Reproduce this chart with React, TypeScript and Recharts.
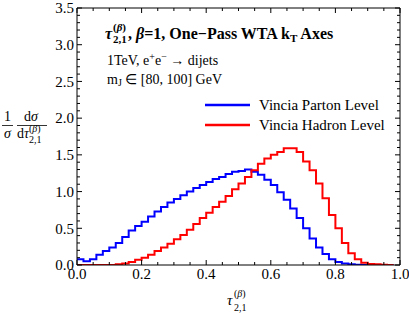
import React from 'react';
import { LineChart, Line, XAxis, YAxis, Legend, Customized } from 'recharts';

const FONT = '"Liberation Serif", "Times New Roman", serif';

const binStart = [
  0, 0.02, 0.04, 0.06, 0.08, 0.1, 0.12, 0.14, 0.16, 0.18,
  0.2, 0.22, 0.24, 0.26, 0.28, 0.3, 0.32, 0.34, 0.36, 0.38,
  0.4, 0.42, 0.44, 0.46, 0.48, 0.5, 0.52, 0.54, 0.56, 0.58,
  0.6, 0.62, 0.64, 0.66, 0.68, 0.7, 0.72, 0.74, 0.76, 0.78,
  0.8, 0.82, 0.84, 0.86, 0.88, 0.9, 0.92, 0.94, 0.96, 0.98,
];

const parton = [
  0.08, 0.05, 0.08, 0.14, 0.19, 0.24, 0.30, 0.38, 0.47, 0.53,
  0.59, 0.66, 0.73, 0.79, 0.85, 0.90, 0.95, 1.00, 1.05, 1.09,
  1.13, 1.17, 1.20, 1.24, 1.27, 1.28, 1.30, 1.27, 1.23, 1.16,
  1.09, 0.99, 0.89, 0.77, 0.64, 0.50, 0.36, 0.24, 0.15, 0.08,
  0.04, 0.02, 0.01, 0.005, 0, 0, 0, 0, 0, 0,
];

const hadron = [
  0, 0, 0, 0, 0, 0, 0.01, 0.02, 0.04, 0.07,
  0.10, 0.14, 0.19, 0.24, 0.29, 0.35, 0.41, 0.48, 0.56, 0.64,
  0.71, 0.79, 0.86, 0.94, 1.03, 1.11, 1.20, 1.29, 1.38, 1.45,
  1.50, 1.54, 1.59, 1.59, 1.54, 1.41, 1.29, 1.11, 0.91, 0.68,
  0.50, 0.30, 0.16, 0.08, 0.03, 0.015, 0.01, 0.005, 0, 0,
];

const xTicks = [
  0, 0.05, 0.1, 0.15, 0.2, 0.25, 0.3, 0.35, 0.4, 0.45, 0.5,
  0.55, 0.6, 0.65, 0.7, 0.75, 0.8, 0.85, 0.9, 0.95, 1,
];
const xMajor = [0, 0.2, 0.4, 0.6, 0.8, 1];

const yTicks = [
  0, 0.1, 0.2, 0.3, 0.4, 0.5, 0.6, 0.7, 0.8, 0.9, 1,
  1.1, 1.2, 1.3, 1.4, 1.5, 1.6, 1.7, 1.8, 1.9, 2,
  2.1, 2.2, 2.3, 2.4, 2.5, 2.6, 2.7, 2.8, 2.9, 3,
  3.1, 3.2, 3.3, 3.4, 3.5,
];
const yMajor = [0, 0.5, 1, 1.5, 2, 2.5, 3, 3.5];

const seriesNames = { parton: 'Vincia Parton Level', hadron: 'Vincia Hadron Level' };
const seriesColors = { parton: '#0000ff', hadron: '#ff0000' };

const data = binStart.map((x, i) => ({ x, parton: parton[i], hadron: hadron[i] }));

const isMajor = (v: number, majors: number[]) => majors.some((m) => Math.abs(m - v) < 1e-6);

const MAJOR = 5;
const MINOR = 3;

const BottomTick = (props: any) => {
  const { x, y, payload } = props;
  const v = payload.value;
  const major = isMajor(v, xMajor);
  const axisY = y - 3;
  return (
    <g>
      <line x1={x} x2={x} y1={axisY} y2={axisY - (major ? MAJOR : MINOR)} stroke="#000" strokeWidth={1} />
      {major && (
        <text x={x} y={y} dy="0.71em" textAnchor="middle" fontFamily={FONT} fontSize={15} fill="#000">
          {v.toFixed(1)}
        </text>
      )}
    </g>
  );
};

const TopTick = (props: any) => {
  const { x, y, payload } = props;
  const major = isMajor(payload.value, xMajor);
  return <line x1={x} x2={x} y1={y} y2={y + (major ? MAJOR : MINOR)} stroke="#000" strokeWidth={1} />;
};

const LeftTick = (props: any) => {
  const { x, y, payload } = props;
  const v = payload.value;
  const major = isMajor(v, yMajor);
  const axisX = x + 3;
  return (
    <g>
      <line x1={axisX} x2={axisX + (major ? MAJOR : MINOR)} y1={y} y2={y} stroke="#000" strokeWidth={1} />
      {major && (
        <text x={x} y={y} dy="0.35em" textAnchor="end" fontFamily={FONT} fontSize={15} fill="#000">
          {v.toFixed(1)}
        </text>
      )}
    </g>
  );
};

const RightTick = (props: any) => {
  const { x, y, payload } = props;
  const major = isMajor(payload.value, yMajor);
  return <line x1={x} x2={x - (major ? MAJOR : MINOR)} y1={y} y2={y} stroke="#000" strokeWidth={1} />;
};

const Texts = () => (
  <g fontFamily={FONT} fill="#000" style={{ whiteSpace: 'pre' }}>
    {/* annotation line 1 */}
    <text x={105} y={39} fontSize={16} fontWeight="bold" fontStyle="italic">τ</text>
    <text x={113} y={31} fontSize={11} fontWeight="bold">(<tspan fontStyle="italic">β</tspan>)</text>
    <text x={113} y={43} fontSize={11} fontWeight="bold">2,1</text>
    <text x={128} y={39} fontSize={16} fontWeight="bold">
      {',  '}
      <tspan fontStyle="italic">β</tspan>
      {'=1, One−Pass WTA k'}
      <tspan fontSize={11} dy={3}>T</tspan>
      <tspan dy={-3}>{' Axes'}</tspan>
    </text>
    {/* annotation line 2 */}
    <text x={107} y={65} fontSize={14}>
      {'1TeV,  e'}
      <tspan fontSize={10} dy={-5}>+</tspan>
      <tspan dy={5}>e</tspan>
      <tspan fontSize={10} dy={-5}>−</tspan>
      <tspan dy={5}>{' → dijets'}</tspan>
    </text>
    {/* annotation line 3 */}
    <text x={107} y={84} fontSize={14}>
      m
      <tspan fontSize={10} dy={2}>J</tspan>
      <tspan dy={-2}>{' ∈ [80, 100] GeV'}</tspan>
    </text>

    {/* y-axis title */}
    <text x={7.5} y={121} fontSize={14} textAnchor="middle">1</text>
    <line x1={2} x2={13} y1={125.5} y2={125.5} stroke="#000" strokeWidth={0.8} />
    <text x={7.5} y={138} fontSize={14} textAnchor="middle" fontStyle="italic">σ</text>
    <text x={31} y={121} fontSize={14} textAnchor="middle">
      d<tspan fontStyle="italic">σ</tspan>
    </text>
    <line x1={17} x2={47} y1={125.5} y2={125.5} stroke="#000" strokeWidth={0.8} />
    <text x={17} y={138} fontSize={14}>
      d<tspan fontStyle="italic">τ</tspan>
    </text>
    <text x={29} y={132} fontSize={10}>(<tspan fontStyle="italic">β</tspan>)</text>
    <text x={29} y={143} fontSize={10}>2,1</text>

    {/* x-axis title */}
    <text x={227} y={305} fontSize={15} fontStyle="italic">τ</text>
    <text x={234} y={297} fontSize={10}>(<tspan fontStyle="italic">β</tspan>)</text>
    <text x={234} y={311} fontSize={10}>2,1</text>
  </g>
);

const LegendContent = () => (
  <svg width={200} height={40} style={{ display: 'block', overflow: 'visible' }}>
    {(['parton', 'hadron'] as const).map((k, i) => (
      <g key={k}>
        <line x1={0} x2={45} y1={10 + i * 20} y2={10 + i * 20} stroke={seriesColors[k]} strokeWidth={2.4} />
        <text x={54} y={10 + i * 20} dy="0.35em" fontFamily={FONT} fontSize={15} fill="#000">
          {seriesNames[k]}
        </text>
      </g>
    ))}
  </svg>
);

export default function App() {
  return (
    <div style={{ position: 'absolute', left: 0, top: 0, width: 409, height: 314, background: '#fff' }}>
      <LineChart width={409} height={314} data={data} margin={{ top: 7, right: 8, bottom: 48, left: 76 }}>
        <XAxis
          xAxisId="b"
          dataKey="x"
          type="number"
          domain={[0, 1]}
          allowDataOverflow
          ticks={xTicks}
          interval={0}
          height={1}
          tickSize={0}
          tickMargin={3}
          tickLine={false}
          axisLine={{ stroke: '#000', strokeWidth: 1 }}
          tick={<BottomTick />}
        />
        <XAxis
          xAxisId="t"
          orientation="top"
          dataKey="x"
          type="number"
          domain={[0, 1]}
          allowDataOverflow
          ticks={xTicks}
          interval={0}
          height={1}
          tickSize={0}
          tickMargin={0}
          tickLine={false}
          axisLine={{ stroke: '#000', strokeWidth: 1 }}
          tick={<TopTick />}
        />
        <YAxis
          yAxisId="l"
          type="number"
          domain={[0, 3.5]}
          allowDataOverflow
          ticks={yTicks}
          interval={0}
          width={1}
          tickSize={0}
          tickMargin={3}
          tickLine={false}
          axisLine={{ stroke: '#000', strokeWidth: 1 }}
          tick={<LeftTick />}
        />
        <YAxis
          yAxisId="r"
          orientation="right"
          type="number"
          domain={[0, 3.5]}
          allowDataOverflow
          ticks={yTicks}
          interval={0}
          width={1}
          tickSize={0}
          tickMargin={0}
          tickLine={false}
          axisLine={{ stroke: '#000', strokeWidth: 1 }}
          tick={<RightTick />}
        />
        <Line
          xAxisId="b"
          yAxisId="l"
          type="stepAfter"
          dataKey="parton"
          name={seriesNames.parton}
          stroke={seriesColors.parton}
          strokeWidth={2}
          dot={false}
          isAnimationActive={false}
        />
        <Line
          xAxisId="b"
          yAxisId="l"
          type="stepAfter"
          dataKey="hadron"
          name={seriesNames.hadron}
          stroke={seriesColors.hadron}
          strokeWidth={2}
          dot={false}
          isAnimationActive={false}
        />
        <Legend
          layout="vertical"
          align="center"
          verticalAlign="middle"
          wrapperStyle={{ left: 205, top: 95, width: 200 }}
          content={<LegendContent />}
        />
        <Customized component={<Texts />} />
      </LineChart>
    </div>
  );
}
